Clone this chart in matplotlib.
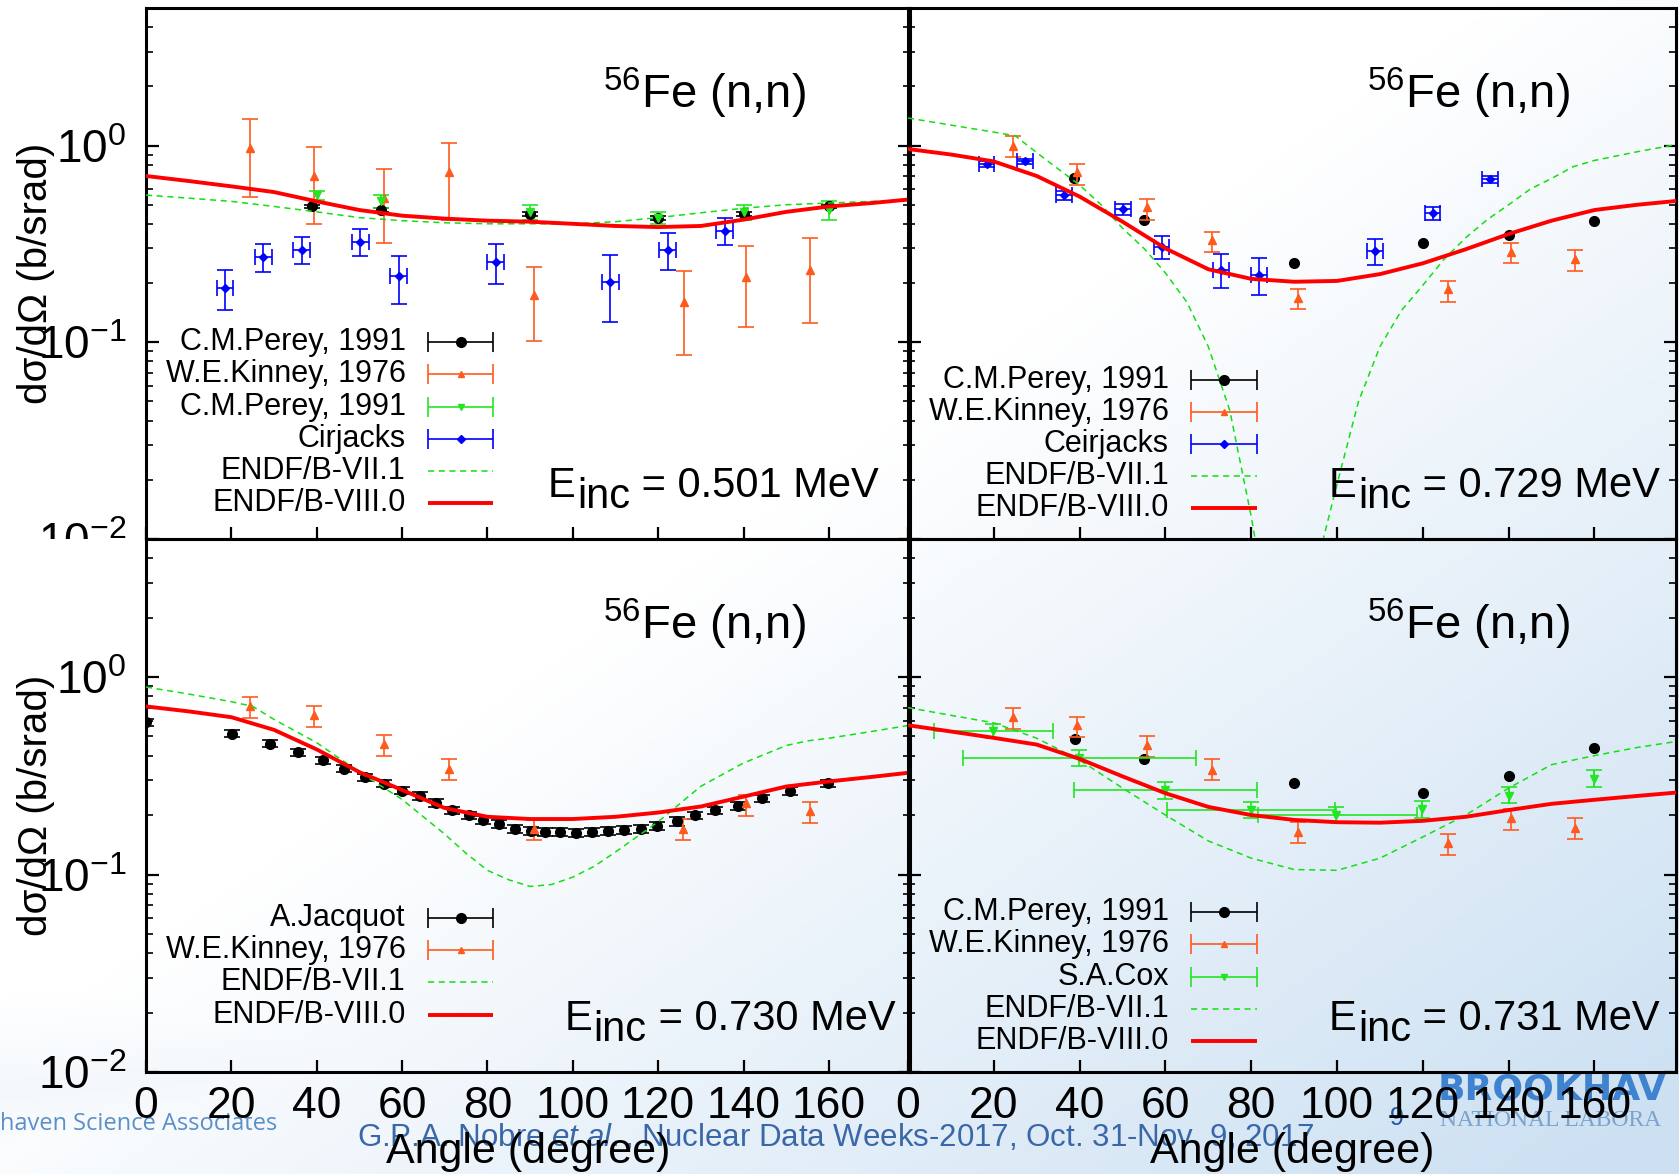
import numpy as np
import matplotlib
matplotlib.use("Agg")
import matplotlib.pyplot as plt
from matplotlib.ticker import FixedLocator, LogLocator, NullFormatter
from matplotlib.transforms import Bbox, TransformedBbox

plt.rcParams['font.family'] = ['Liberation Sans', 'DejaVu Sans']
plt.rcParams['mathtext.fontset'] = 'custom'
plt.rcParams['mathtext.rm'] = 'Liberation Sans'
plt.rcParams['mathtext.it'] = 'Liberation Sans:italic'
plt.rcParams['mathtext.bf'] = 'Liberation Sans:bold'

# ---------------- data (angle in degrees, dsigma/dOmega in b/srad) ----------------
ang_c = [0, 10, 20, 30, 40, 50, 60, 70, 80, 90, 100, 110, 120, 130, 140, 150, 160, 170, 180]

# E = 0.501 MeV
p1_viii = [0.70, 0.66, 0.62, 0.58, 0.52, 0.47, 0.44, 0.425, 0.415, 0.41, 0.40, 0.39, 0.385, 0.39, 0.42, 0.46, 0.49, 0.51, 0.535]
p1_vii = [0.56, 0.54, 0.52, 0.49, 0.46, 0.43, 0.415, 0.405, 0.40, 0.40, 0.40, 0.41, 0.43, 0.455, 0.48, 0.50, 0.51, 0.52, 0.53]
perey1_a = [39, 55, 90, 120, 140, 160]
perey1_y = [0.49, 0.47, 0.45, 0.43, 0.45, 0.49]
kin1_a = [24.3, 39.4, 55.8, 70.9, 90.9, 126.0, 140.6, 155.5]
kin1_y = [0.97, 0.70, 0.54, 0.73, 0.173, 0.16, 0.215, 0.234]
kin1_lo = [0.55, 0.40, 0.32, 0.42, 0.101, 0.086, 0.119, 0.126]
kin1_hi = [1.37, 0.98, 0.76, 1.03, 0.24, 0.23, 0.31, 0.34]
pereyb1_a = [40, 55, 90, 120, 140, 160]
pereyb1_y = [0.56, 0.52, 0.46, 0.43, 0.46, 0.47]
pereyb1_err = [0.03, 0.04, 0.04, 0.03, 0.04, 0.05]
cir1_a = [18.5, 27.5, 36.5, 50.2, 59.2, 81.9, 108.8, 122.2, 135.6]
cir1_y = [0.189, 0.27, 0.296, 0.324, 0.216, 0.256, 0.202, 0.295, 0.368]
cir1_lo = [0.146, 0.228, 0.249, 0.273, 0.157, 0.197, 0.127, 0.233, 0.311]
cir1_hi = [0.232, 0.316, 0.343, 0.377, 0.275, 0.316, 0.278, 0.36, 0.429]
cir1_xerr = [1.8, 2.0, 2.0, 2.0, 2.0, 2.0, 2.0, 2.0, 2.0]

# E = 0.729 MeV
p2_viii = [0.96, 0.90, 0.83, 0.70, 0.55, 0.41, 0.30, 0.235, 0.21, 0.203, 0.205, 0.222, 0.252, 0.297, 0.355, 0.415, 0.47, 0.50, 0.525]
ang2_vii = [0, 10, 20, 25, 30, 35, 40, 45, 50, 55, 60, 65, 70, 75, 80, 85, 90, 95, 100, 105,
            110, 115, 120, 125, 130, 135, 140, 145, 150, 155, 160, 170, 180]
p2_vii = [1.38, 1.27, 1.17, 1.12, 0.92, 0.76, 0.63, 0.50, 0.38, 0.30, 0.225, 0.16, 0.095, 0.045, 0.013, 0.003, 0.0006,
          0.007, 0.019, 0.05, 0.095, 0.145, 0.195, 0.265, 0.34, 0.42, 0.50, 0.60, 0.68, 0.78, 0.84, 0.93, 1.02]
perey2_a = [38.8, 54.9, 90, 120, 140, 160]
perey2_y = [0.68, 0.42, 0.252, 0.321, 0.351, 0.414]
kin2_a = [24.4, 39.4, 55.6, 70.9, 90.9, 125.9, 140.5, 155.4]
kin2_y = [1.0, 0.73, 0.485, 0.33, 0.168, 0.186, 0.288, 0.264]
kin2_lo = [0.87, 0.63, 0.42, 0.286, 0.147, 0.161, 0.252, 0.23]
kin2_hi = [1.12, 0.81, 0.535, 0.364, 0.187, 0.205, 0.319, 0.294]
cei2_a = [18.3, 27.3, 36.4, 50.1, 59.1, 72.9, 81.8, 108.8, 122.3, 135.7]
cei2_y = [0.806, 0.83, 0.56, 0.475, 0.305, 0.233, 0.221, 0.29, 0.452, 0.676]
cei2_lo = [0.78, 0.81, 0.53, 0.445, 0.266, 0.188, 0.173, 0.246, 0.418, 0.645]
cei2_hi = [0.83, 0.85, 0.59, 0.505, 0.345, 0.28, 0.267, 0.334, 0.488, 0.70]
cei2_xerr = [1.8, 1.8, 1.8, 1.8, 1.8, 1.8, 1.8, 1.8, 1.8, 1.8]

# E = 0.730 MeV
p3_viii = [0.71, 0.67, 0.626, 0.54, 0.43, 0.33, 0.268, 0.217, 0.196, 0.191, 0.191, 0.196, 0.206, 0.221, 0.248, 0.279, 0.296, 0.312, 0.33]
ang3_vii = [0, 10, 20, 25, 30, 40, 50, 60, 70, 75, 80, 85, 90, 95, 100, 105, 110, 120, 130, 140, 150, 155, 160, 170, 180]
p3_vii = [0.89, 0.82, 0.75, 0.71, 0.61, 0.465, 0.33, 0.24, 0.16, 0.128, 0.105, 0.094, 0.087, 0.089, 0.097, 0.11, 0.13,
          0.185, 0.28, 0.367, 0.45, 0.475, 0.49, 0.53, 0.575]
jac_a = [0.1, 20.2, 29, 35.7, 41.4, 46.4, 51.3, 55.8, 60, 64.1, 68, 71.7, 75.6, 79, 82.8, 86.4,
         90.1, 93.6, 97.1, 100.8, 104.4, 108.2, 112, 116, 119.8, 124.3, 128.7, 133.4, 138.7, 144.3, 151, 159.7]
jac_y = [0.59, 0.517, 0.46, 0.416, 0.378, 0.343, 0.311, 0.288, 0.266, 0.25, 0.231, 0.212, 0.199, 0.189, 0.18, 0.171,
         0.167, 0.165, 0.164, 0.163, 0.164, 0.166, 0.168, 0.171, 0.177, 0.186, 0.199, 0.211, 0.223, 0.243, 0.265, 0.289]
jac_err = [0.025, 0.022, 0.019, 0.017, 0.016, 0.014, 0.013, 0.012, 0.011, 0.011, 0.010, 0.009, 0.009, 0.008, 0.008, 0.008,
           0.008, 0.008, 0.008, 0.008, 0.008, 0.008, 0.008, 0.008, 0.008, 0.009, 0.009, 0.009, 0.010, 0.010, 0.011, 0.012]
kin3_a = [24.3, 39.4, 55.8, 70.9, 90.9, 125.9, 140.6, 155.5]
kin3_y = [0.71, 0.64, 0.458, 0.343, 0.171, 0.171, 0.23, 0.21]
kin3_lo = [0.62, 0.557, 0.397, 0.302, 0.15, 0.149, 0.198, 0.183]
kin3_hi = [0.79, 0.71, 0.507, 0.386, 0.189, 0.19, 0.253, 0.234]

# E = 0.731 MeV
p4_viii = [0.57, 0.53, 0.492, 0.455, 0.385, 0.314, 0.258, 0.22, 0.2, 0.189, 0.184, 0.183, 0.187, 0.196, 0.212, 0.228, 0.239, 0.25, 0.261]
p4_vii = [0.70, 0.64, 0.586, 0.49, 0.38, 0.274, 0.20, 0.148, 0.121, 0.106, 0.105, 0.121, 0.155, 0.20, 0.274, 0.36, 0.40, 0.44, 0.475]
perey4_a = [38.9, 54.9, 90, 120, 140, 160]
perey4_y = [0.486, 0.385, 0.292, 0.258, 0.316, 0.437]
kin4_a = [24.4, 39.4, 55.6, 70.9, 90.9, 125.9, 140.5, 155.4]
kin4_y = [0.626, 0.57, 0.451, 0.34, 0.165, 0.144, 0.194, 0.173]
kin4_lo = [0.548, 0.497, 0.392, 0.302, 0.145, 0.126, 0.169, 0.152]
kin4_hi = [0.698, 0.63, 0.501, 0.383, 0.184, 0.16, 0.215, 0.193]
cox_a = [19.8, 39.9, 59.9, 79.9, 99.8, 119.8, 140, 160]
cox_y = [0.531, 0.389, 0.267, 0.212, 0.20, 0.215, 0.251, 0.305]
cox_lo = [0.49, 0.353, 0.241, 0.193, 0.184, 0.193, 0.23, 0.276]
cox_hi = [0.575, 0.426, 0.294, 0.234, 0.22, 0.236, 0.279, 0.339]
cox_xlo = [6.1, 12.8, 38.8, 60.3, 81.5, 119.8, 140, 160]
cox_xhi = [33.9, 67.2, 81.3, 99.6, 118.6, 119.8, 140, 160]

xticks = [0, 20, 40, 60, 80, 100, 120, 140, 160]

ORANGE = '#ff5a1e'
GREEN = '#22e622'
LGREEN = '#11e011'
BLUE = '#0000ff'
RED = '#ff0000'

W, H = 1679, 1174
fig = plt.figure(figsize=(W / 100, H / 100), dpi=100)

# slide background
bg = fig.add_axes([0, 0, 1, 1], zorder=-10)
yy, xx = np.mgrid[0:1:300j, 0:1:430j]
t = np.clip(0.95 * xx + 0.95 * yy - 0.85, 0, 1)
t = np.maximum(t, np.clip(1.0 - np.abs(yy - (0.93 - 0.12 * xx)) / 0.08, 0, 1) * 0.22 * (xx < 0.6))
white = np.array([1.0, 1.0, 1.0])
blue = np.array([0.80, 0.88, 0.95])
img = white * (1 - t[..., None]) + blue * t[..., None]
bg.imshow(img, extent=[0, 1, 0, 1], aspect='auto', origin='upper')
bg.axis('off')


def panel(rect):
    ax = fig.add_axes(rect)
    ax.set_facecolor('none')
    ax.set_yscale('log')
    ax.set_ylim(0.01, 5.0)
    ax.set_xlim(0, 179)
    ax.xaxis.set_major_locator(FixedLocator(xticks))
    ax.set_yticks([0.01, 0.1, 1.0], labels=[r'$\mathregular{10^{-2}}$', r'$\mathregular{10^{-1}}$', r'$\mathregular{10^{0}}$'])
    ax.yaxis.set_minor_locator(LogLocator(subs=np.arange(2, 10)))
    ax.yaxis.set_minor_formatter(NullFormatter())
    ax.tick_params(which='both', direction='in', left=True, right=True, top=False, bottom=True)
    ax.tick_params(which='major', length=9, width=1.6)
    ax.tick_params(which='minor', length=5, width=1.2)
    ax.tick_params(axis='x', labelsize=32, pad=10)
    ax.tick_params(axis='y', labelsize=33, pad=14)
    for s in ax.spines.values():
        s.set_linewidth(2.2)
    return ax


axA = panel([146 / W, 1 - 539 / H, 764 / W, 531 / H])
axC = panel([146 / W, 1 - 1072 / H, 764 / W, 533 / H])
axB = panel([908 / W, 1 - 539 / H, 768 / W, 531 / H])
axD = panel([908 / W, 1 - 1072 / H, 768 / W, 533 / H])

for ax in (axA, axB):
    ax.tick_params(axis='x', labelbottom=False)
for ax in (axB, axD):
    ax.tick_params(axis='y', labelleft=False)
for ax in (axA, axC):
    ax.set_ylabel('dσ/dΩ (b/srad)', fontsize=29, va='center')
    ax.yaxis.set_label_coords(-0.144, 0.5)
for ax in (axC, axD):
    ax.set_xlabel('Angle (degree)', fontsize=31, labelpad=4)

# upper-left tick labels are cut by the lower panel
clip = TransformedBbox(Bbox([[0, 1 - 539 / H], [1, 1]]), fig.transFigure)
for lab in axA.get_yticklabels():
    lab.set_clip_box(clip)
    lab.set_clip_on(True)

ebkw = dict(linestyle='none', elinewidth=1.2, capsize=6, capthick=1.2, zorder=2)


def yerr(y, lo, hi):
    return [np.array(y) - np.array(lo), np.array(hi) - np.array(y)]


# panel A
axA.errorbar(perey1_a, perey1_y, yerr=0.01, fmt='o', color='black', ms=7, **ebkw)
axA.errorbar(kin1_a, kin1_y, yerr=yerr(kin1_y, kin1_lo, kin1_hi), fmt='^', color=ORANGE, ms=6, **ebkw)
axA.errorbar(pereyb1_a, pereyb1_y, yerr=pereyb1_err, fmt='v', color=GREEN, ms=6, **ebkw)
axA.errorbar(cir1_a, cir1_y, yerr=yerr(cir1_y, cir1_lo, cir1_hi), xerr=cir1_xerr, fmt='D', color=BLUE, ms=4.5, **ebkw)
axA.plot(ang_c, p1_vii, color=LGREEN, lw=1.1, dashes=(4, 3), zorder=3)
axA.plot(ang_c, p1_viii, color=RED, lw=2.8, zorder=3)

# panel B
axB.plot(perey2_a, perey2_y, 'o', color='black', ms=7, zorder=2)
axB.errorbar(kin2_a, kin2_y, yerr=yerr(kin2_y, kin2_lo, kin2_hi), fmt='^', color=ORANGE, ms=6, **ebkw)
axB.errorbar(cei2_a, cei2_y, yerr=yerr(cei2_y, cei2_lo, cei2_hi), xerr=cei2_xerr, fmt='D', color=BLUE, ms=4.5, **ebkw)
axB.plot(ang2_vii, p2_vii, color=LGREEN, lw=1.1, dashes=(4, 3), zorder=3)
axB.plot(ang_c, p2_viii, color=RED, lw=2.8, zorder=3)

# panel C
axC.errorbar(jac_a, jac_y, yerr=jac_err, fmt='o', color='black', ms=7, **ebkw)
axC.errorbar(kin3_a, kin3_y, yerr=yerr(kin3_y, kin3_lo, kin3_hi), fmt='^', color=ORANGE, ms=6, **ebkw)
axC.plot(ang3_vii, p3_vii, color=LGREEN, lw=1.1, dashes=(4, 3), zorder=3)
axC.plot(ang_c, p3_viii, color=RED, lw=2.8, zorder=3)

# panel D
axD.plot(perey4_a, perey4_y, 'o', color='black', ms=7, zorder=2)
axD.errorbar(kin4_a, kin4_y, yerr=yerr(kin4_y, kin4_lo, kin4_hi), fmt='^', color=ORANGE, ms=6, **ebkw)
axD.errorbar(cox_a, cox_y, yerr=yerr(cox_y, cox_lo, cox_hi),
             xerr=[np.array(cox_a) - np.array(cox_xlo), np.array(cox_xhi) - np.array(cox_a)],
             fmt='v', color=GREEN, ms=6, **ebkw)
axD.plot(ang_c, p4_vii, color=LGREEN, lw=1.1, dashes=(4, 3), zorder=3)
axD.plot(ang_c, p4_viii, color=RED, lw=2.8, zorder=3)


def key(ax, rows, y0):
    for i, row in enumerate(rows):
        y = 10 ** (y0 - i * 0.1635)
        ax.text(60.8, y, row[0], ha='right', va='center', fontsize=22, zorder=5)
        if row[1] == 'dash':
            ax.plot([66, 81.4], [y, y], color=LGREEN, lw=1.1, dashes=(4, 3), zorder=5)
        elif row[1] == 'solid':
            ax.plot([66, 81.4], [y, y], color=RED, lw=2.8, solid_capstyle='butt', zorder=5)
        else:
            ax.errorbar([73.7], [y], xerr=[7.7], fmt=row[2], color=row[1], ms=row[3],
                        elinewidth=1.2, capsize=7, capthick=1.2, zorder=5)


key(axA, [('C.M.Perey, 1991', 'black', 'o', 7), ('W.E.Kinney, 1976', ORANGE, '^', 5),
          ('C.M.Perey, 1991', GREEN, 'v', 5), ('Cirjacks', BLUE, 'D', 4),
          ('ENDF/B-VII.1', 'dash'), ('ENDF/B-VIII.0', 'solid')], -1.0)
key(axB, [('C.M.Perey, 1991', 'black', 'o', 7), ('W.E.Kinney, 1976', ORANGE, '^', 5),
          ('Ceirjacks', BLUE, 'D', 4), ('ENDF/B-VII.1', 'dash'), ('ENDF/B-VIII.0', 'solid')], -1.19)
key(axC, [('A.Jacquot', 'black', 'o', 7), ('W.E.Kinney, 1976', ORANGE, '^', 5),
          ('ENDF/B-VII.1', 'dash'), ('ENDF/B-VIII.0', 'solid')], -1.219)
key(axD, [('C.M.Perey, 1991', 'black', 'o', 7), ('W.E.Kinney, 1976', ORANGE, '^', 5),
          ('S.A.Cox', GREEN, 'v', 5), ('ENDF/B-VII.1', 'dash'), ('ENDF/B-VIII.0', 'solid')], -1.19)


def einc(ax, x0, label):
    t1 = ax.text(x0, 0.0163, 'E', fontsize=30, ha='left', va='baseline')
    t2 = ax.annotate('inc', xy=(1, 0), xycoords=t1, xytext=(1, -8), textcoords='offset points',
                     fontsize=30, ha='left', va='bottom')
    ax.annotate(' = ' + label, xy=(1, 0), xycoords=t2, xytext=(0, 8), textcoords='offset points',
                fontsize=30, ha='left', va='bottom')


for ax, x0, lab in [(axA, 94.2, '0.501 MeV'), (axB, 98.1, '0.729 MeV'),
                    (axC, 98.0, '0.730 MeV'), (axD, 98.1, '0.731 MeV')]:
    ax.text(107, 1.55, r'$^{\mathregular{56}}$Fe (n,n)', fontsize=34, ha='left', va='baseline')
    einc(ax, x0, lab)

# slide footer
fig.text(0.0, 1 - 1124 / H, 'haven Science Associates', ha='left', va='center',
         fontsize=17, color='#5b8fc7', family=['Open Sans', 'DejaVu Sans'], zorder=-5)
fig.text(357 / W, 1 - 1138 / H, r'G.P.A. Nobre $\mathit{et\ al.}$, Nuclear Data Weeks-2017, Oct. 31-Nov. 9, 2017',
         ha='left', va='center', fontsize=22.5, color='#3a67a8', zorder=-5)
fig.text(1397 / W, 1 - 1118 / H, '9', ha='center', va='center', fontsize=18, color='#1f55a5', zorder=-5)
fig.text(1438 / W, 1 - 1090 / H, 'BROOKHAV', ha='left', va='center', fontsize=26, fontweight='bold',
         color='#3f82cf', family=['DejaVu Sans'], zorder=-5)
fig.text(1440 / W, 1 - 1121 / H, 'NATIONAL LABORA', ha='left', va='center', fontsize=17,
         color='#7aa3cd', family=['Liberation Serif', 'DejaVu Serif'], zorder=-5)

fig.savefig('out.png', dpi=100)
